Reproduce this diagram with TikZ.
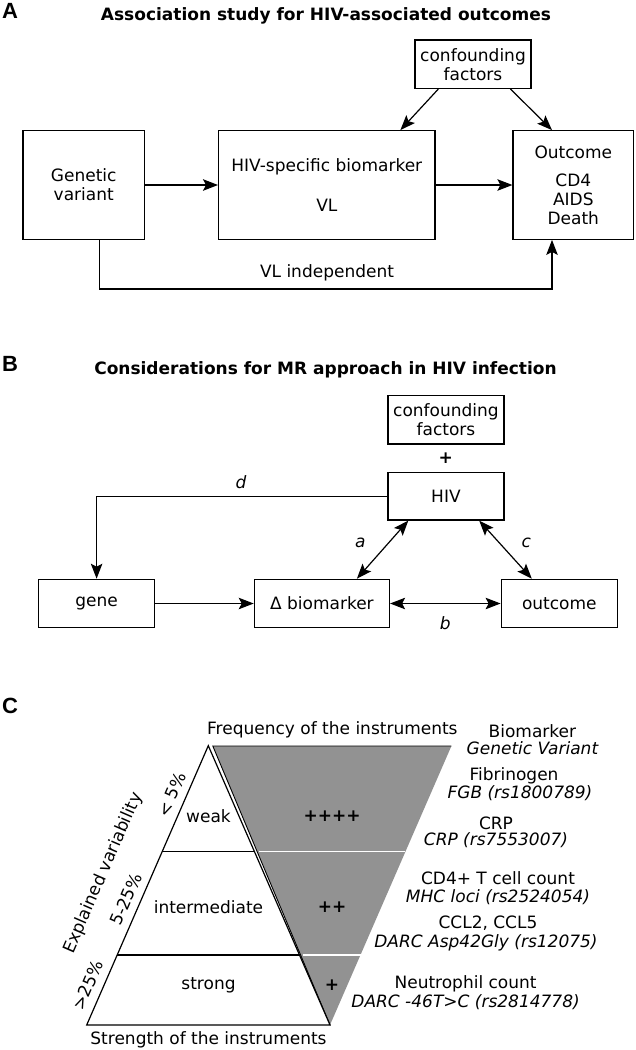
\documentclass[tikz,border=0pt]{standalone}
\usepackage{fontspec}
\setmainfont{DejaVu Sans}
\newfontfamily\lettfont{Liberation Sans}
\usetikzlibrary{arrows.meta}
\definecolor{trigray}{RGB}{146,146,146}
\begin{document}
\begin{tikzpicture}[x=1pt,y=-1pt,
  every node/.style={font=\fontsize{17}{19}\selectfont, inner sep=0pt},
  box/.style={draw, line width=1.2pt, align=center},
  conn/.style={line width=1.2pt, -{Stealth[length=15pt,width=11.5pt,inset=3pt]}},
  dconn/.style={line width=1.2pt, {Stealth[length=15pt,width=11.5pt,inset=3pt]}-{Stealth[length=15pt,width=11.5pt,inset=3pt]}},
  ptitle/.style={font=\fontsize{17}{19}\selectfont\bfseries},
  plabel/.style={font=\fontsize{22}{24}\selectfont\lettfont\bfseries},
  lbl/.style={font=\fontsize{17}{19}\selectfont\itshape},
  rlbl/.style={font=\fontsize{17}{19}\selectfont, rotate=66.5},
  tri/.style={line width=1.2pt},
  plus/.style={font=\fontsize{17}{19}\selectfont\bfseries}
]
\useasboundingbox (0,0) rectangle (635,1050);
\fill[white] (0,0) rectangle (635,1050);

% ---------------- Panel A ----------------
\node[plabel] (LA) at (10,11) {A};
\node[ptitle] (TA) at (326,16) {Association study for HIV-associated outcomes};

\node[box, minimum width=116pt, minimum height=48.3pt] (confA) at (473,64.2) {confounding\\factors};
\node[box, minimum width=121.5pt, minimum height=108.6pt] (gen) at (83.75,185) {Genetic\\variant};
\node[box, minimum width=216.4pt, minimum height=108.6pt] (hivb) at (326.8,185) {HIV-specific biomarker\\[21pt]VL};
\node[box, minimum width=120.6pt, minimum height=108.6pt] (outA) at (573.3,185) {Outcome\\[9pt]CD4\\AIDS\\Death};

\draw[conn] (gen.east) -- (hivb.west);
\draw[conn] (hivb.east) -- (outA.west);
\draw[conn] ([xshift=24pt]confA.south west) -- ([xshift=182.4pt]hivb.north west);
\draw[conn] ([xshift=96pt]confA.south west) -- ([xshift=39.6pt]outA.north west);
\draw[conn] ([xshift=15.5pt]gen.south) -- ++(0,49) -| ([xshift=39.6pt]outA.south west);
\node (vli) at (327,273.3) {VL independent};

% ---------------- Panel B ----------------
\node[plabel] (LB) at (10,364) {B};
\node[ptitle] (TB) at (325.5,370) {Considerations for MR approach in HIV infection};

\node[box, minimum width=116.1pt, minimum height=48.3pt] (confB) at (445.95,419.85) {confounding\\factors};
\node[plus] (plB) at (445.7,457.7) {+};
\node[box, minimum width=116.1pt, minimum height=47.7pt] (hiv) at (445.95,496.15) {HIV};
\node[box, minimum width=116.2pt, minimum height=48.4pt] (gene) at (96.6,603.5) {gene};
\node[box, minimum width=135.2pt, minimum height=48.4pt] (bio) at (321.9,603.5) {Δ biomarker};
\node[box, minimum width=116.2pt, minimum height=48.4pt] (outB) at (559.3,603.5) {outcome};

\draw[conn] (hiv.west) -| (gene.north);
\draw[conn] (gene.east) -- (bio.west);
\draw[dconn] ([xshift=21pt]hiv.south west) -- ([xshift=-33.2pt]bio.north east);
\draw[dconn] ([xshift=91.9pt]hiv.south west) -- ([xshift=31.2pt]outB.north west);
\draw[dconn] (bio.east) -- (outB.west);
\node[lbl] (ld) at (241,481.7) {d};
\node[lbl] (la) at (360.3,543.3) {a};
\node[lbl] (lc) at (526.3,543.3) {c};
\node[lbl] (lb) at (445.3,623.3) {b};

% ---------------- Panel C ----------------
\node[plabel] (LC) at (10,706) {C};

\filldraw[fill=trigray, draw=black, line width=0.9pt] (330,1025) -- (212.8,746) -- (451.4,746);
\draw[tri, fill=white] (208.3,745.7) -- (86.7,1025) -- (330,1025) -- cycle;
\draw[tri] (162.2,851.7) -- (254.5,851.7);
\draw[tri] (117,955) -- (299,955);
\draw[white, line width=1.1pt] (258.5,851.7) -- (405.4,851.7);
\draw[white, line width=1.1pt] (302.5,955) -- (360.5,955);

\node (freq) at (332.4,729.3) {Frequency of the instruments};
\node (stren) at (208.5,1040) {Strength of the instruments};
\node (weak) at (208.5,816) {weak};
\node (inter) at (208.5,906.7) {intermediate};
\node (strong) at (208.5,985) {strong};
\node[plus] (p4) at (332,816) {++++};
\node[plus] (p2) at (332,906.7) {++};
\node[plus] (p1) at (332,985) {+};

\node[rlbl] (r1) at (171.7,795) {< 5\%};
\node[rlbl] (r2) at (126,899) {5-25\%};
\node[rlbl] (r3) at (88,985) {>25\%};
\node[rlbl] (expl) at (103.3,873.3) {Explained variability};

\node (bm) at (532.4,731) {Biomarker};
\node[lbl] (gv) at (532.4,748.3) {Genetic Variant};
\node (fib) at (514,775.7) {Fibrinogen};
\node[lbl] (fgb) at (520,793.3) {FGB (rs1800789)};
\node (crp) at (496,823.3) {CRP};
\node[lbl] (crpv) at (496,840) {CRP (rs7553007)};
\node (cd4) at (498,878.3) {CD4+ T cell count};
\node[lbl] (mhc) at (498,896.7) {MHC loci (rs2524054)};
\node (ccl) at (488,923.3) {CCL2, CCL5};
\node[lbl] (darc1) at (486,942.7) {DARC Asp42Gly (rs12075)};
\node (neu) at (465.6,983.3) {Neutrophil count};
\node[lbl] (darc2) at (465.6,1001.7) {DARC -46T>C (rs2814778)};
\end{tikzpicture}
\end{document}
